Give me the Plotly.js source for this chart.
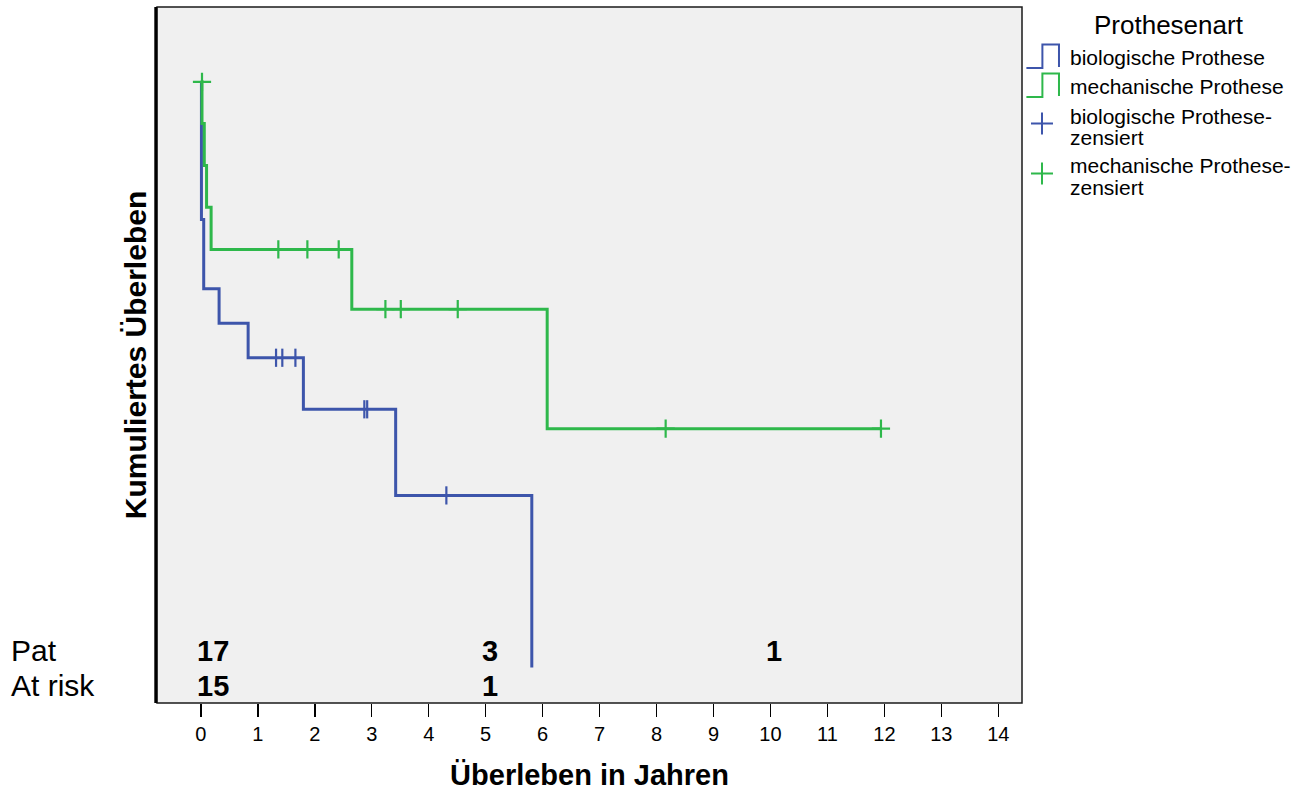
<!DOCTYPE html>
<html>
<head>
<meta charset="utf-8">
<script src="https://cdn.plot.ly/plotly-3.0.1.min.js"></script>
<style>html,body{margin:0;padding:0;background:#fff;}#chart{width:1303px;height:794px;}</style>
</head>
<body>
<div id="chart"></div>
<script>
// ---- data ----
const bioTimes = [0, 0.01, 0.05, 0.32, 0.83, 1.80, 3.42, 5.81];
const bioSurv  = [1.0, 0.765, 0.647, 0.588, 0.529, 0.441, 0.294, 0.0];
const bioCensTimes = [1.32, 1.43, 1.66, 2.87, 2.92, 4.31];
const bioCensSurv  = [0.529, 0.529, 0.529, 0.441, 0.441, 0.294];

const mechTimes = [0, 0.02, 0.06, 0.10, 0.18, 2.65, 6.08, 11.95];
const mechSurv  = [1.0, 0.929, 0.857, 0.786, 0.714, 0.612, 0.408, 0.408];
const mechCensTimes = [0.02, 1.36, 1.87, 2.42, 3.24, 3.51, 4.51, 8.16, 11.94];
const mechCensSurv  = [1.0, 0.714, 0.714, 0.714, 0.612, 0.612, 0.612, 0.408, 0.408];

const riskTimes = [0, 5, 10];
const patCounts = ["17", "3", "1"];
const atRiskCounts = ["15", "1"];
const xTicks = [0,1,2,3,4,5,6,7,8,9,10,11,12,13,14];

const seriesNames = ["biologische Prothese", "mechanische Prothese"];
const legendTitle = "Prothesenart";

// ---- styling ----
const BLUE = "#3d55ab";
const GREEN = "#2eb84b";
const FONT = "Arial, 'Liberation Sans', sans-serif";

// plot area in pixels
const L = 157, R = 1022.3, T = 6.7, B = 703.3;
const W = 1303, H = 794;
const px = x => (x - L) / (R - L);
const py = y => (B - y) / (B - T);

const traces = [
  {x: bioTimes, y: bioSurv, mode: "lines", line: {shape: "hv", color: BLUE, width: 3}, name: seriesNames[0], showlegend: false, hoverinfo: "x+y"},
  {x: mechTimes, y: mechSurv, mode: "lines", line: {shape: "hv", color: GREEN, width: 3}, name: seriesNames[1], showlegend: false, hoverinfo: "x+y"},
  {x: bioCensTimes, y: bioCensSurv, mode: "markers", marker: {symbol: "line-ns", size: 13, line: {width: 2.2, color: BLUE}}, name: seriesNames[0] + "-zensiert", showlegend: false},
  {x: mechCensTimes, y: mechCensSurv, mode: "markers", marker: {symbol: "cross-thin", size: 13, line: {width: 2.2, color: GREEN}}, name: seriesNames[1] + "-zensiert", showlegend: false}
];

const annotations = [];
// at-risk table
annotations.push({xref: "paper", yref: "paper", x: px(9), y: py(651), xanchor: "left", yanchor: "middle", text: "Pat", showarrow: false, font: {family: FONT, size: 30, color: "#000"}});
annotations.push({xref: "paper", yref: "paper", x: px(9), y: py(686), xanchor: "left", yanchor: "middle", text: "At risk", showarrow: false, font: {family: FONT, size: 30, color: "#000"}});
patCounts.forEach((c, i) => annotations.push({xref: "x", yref: "paper", x: riskTimes[i], y: py(651), xanchor: "left", yanchor: "middle", xshift: -6, text: c, showarrow: false, font: {family: FONT, size: 29, color: "#000", weight: "bold"}}));
atRiskCounts.forEach((c, i) => annotations.push({xref: "x", yref: "paper", x: riskTimes[i], y: py(686), xanchor: "left", yanchor: "middle", xshift: -6, text: c, showarrow: false, font: {family: FONT, size: 29, color: "#000", weight: "bold"}}));

// custom legend
annotations.push({xref: "paper", yref: "paper", x: px(1169), y: py(25), xanchor: "center", yanchor: "middle", text: legendTitle, showarrow: false, font: {family: FONT, size: 26, color: "#000"}});
const legLines = [
  [seriesNames[0], 57],
  [seriesNames[1], 86],
  [seriesNames[0] + "-", 116],
  ["zensiert", 137],
  [seriesNames[1] + "-", 165],
  ["zensiert", 187]
];
legLines.forEach(([t, y]) => annotations.push({xref: "paper", yref: "paper", x: px(1068), y: py(y), xanchor: "left", yanchor: "middle", text: t, showarrow: false, font: {family: FONT, size: 21, color: "#000"}}));

const stepPath = (y0, y1) => `M ${px(1026.7)},${py(y0)} L ${px(1042.7)},${py(y0)} L ${px(1042.7)},${py(y1)} L ${px(1059.3)},${py(y1)} L ${px(1059.3)},${py(y0 - 1)}`;
const plusPath = (cx, cy, r) => `M ${px(cx - r)},${py(cy)} L ${px(cx + r)},${py(cy)} M ${px(cx)},${py(cy - r)} L ${px(cx)},${py(cy + r)}`;

const shapes = [
  {type: "rect", xref: "paper", yref: "paper", x0: 0, x1: 1, y0: 0, y1: 1, line: {color: "#1a1a1a", width: 1.5}, fillcolor: "rgba(0,0,0,0)"},
  {type: "line", xref: "paper", yref: "paper", x0: px(155.8), x1: px(155.8), y0: 0, y1: 1, line: {color: "#000", width: 3}},
  {type: "path", xref: "paper", yref: "paper", path: stepPath(67.7, 44.3), line: {color: BLUE, width: 2}},
  {type: "path", xref: "paper", yref: "paper", path: stepPath(96.7, 73.3), line: {color: GREEN, width: 2}},
  {type: "path", xref: "paper", yref: "paper", path: plusPath(1042.3, 123.3, 11), line: {color: BLUE, width: 2}},
  {type: "path", xref: "paper", yref: "paper", path: plusPath(1042.3, 173.3, 11), line: {color: GREEN, width: 2}}
];

const layout = {
  width: W, height: H,
  margin: {l: L, r: W - R, t: T, b: H - B, pad: 0},
  paper_bgcolor: "#ffffff",
  plot_bgcolor: "#f0f0f0",
  showlegend: false,
  font: {family: FONT, color: "#000"},
  xaxis: {
    range: [-0.770, 14.416],
    tickvals: xTicks, ticktext: xTicks.map(String),
    ticks: "outside", ticklen: 13, tickwidth: 1.5, tickcolor: "#000",
    tickfont: {family: FONT, size: 20, color: "#000"},
    showgrid: false, zeroline: false, showline: false,
    title: {text: "Überleben in Jahren", font: {family: FONT, size: 29, color: "#000", weight: "bold"}, standoff: 20},
    automargin: false
  },
  yaxis: {
    range: [-0.0604, 1.1278],
    showticklabels: false, ticks: "", showgrid: false, zeroline: false, showline: false,
    title: {text: "Kumuliertes Überleben", font: {family: FONT, size: 30, color: "#000", weight: "bold"}, standoff: 0},
    automargin: false
  },
  annotations: annotations,
  shapes: shapes
};

Plotly.newPlot("chart", traces, layout, {displayModeBar: false, staticPlot: true});
</script>
</body>
</html>
